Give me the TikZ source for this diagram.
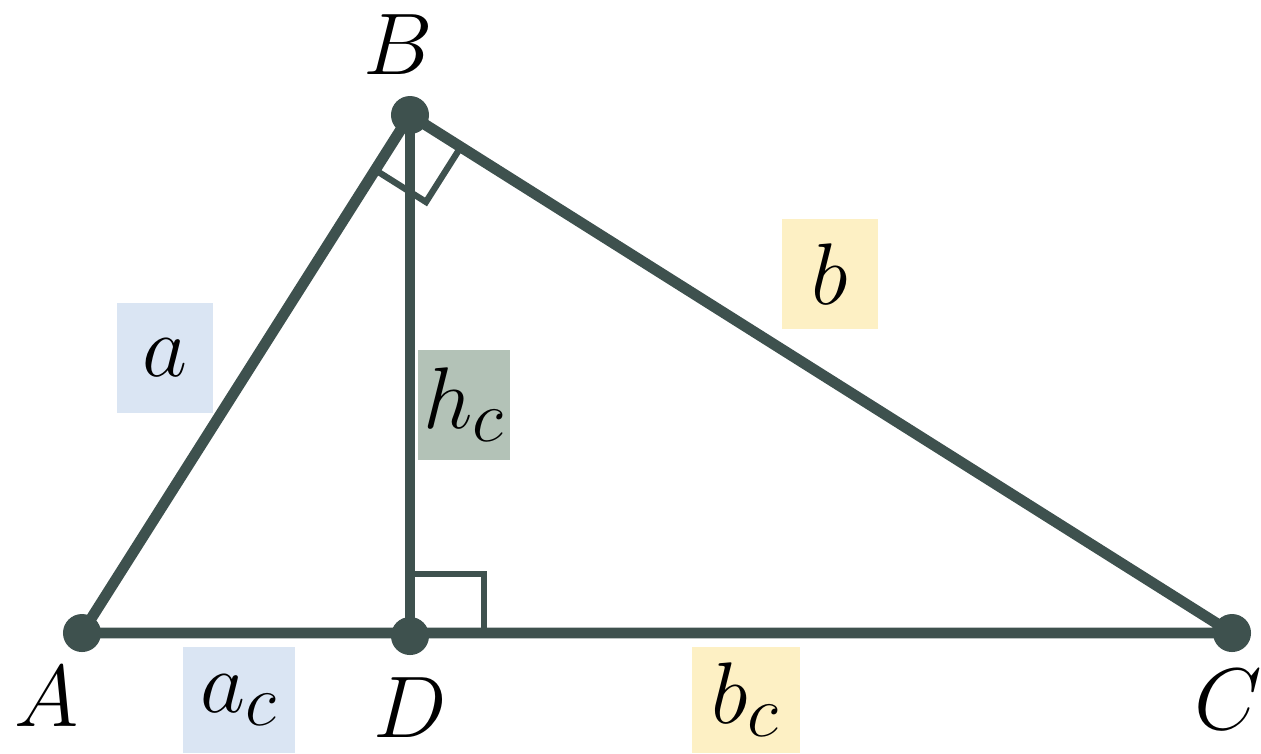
\documentclass[tikz,border=0pt]{standalone}
\usetikzlibrary{calc, positioning}
\definecolor{edgecol}{HTML}{3E514E}
\definecolor{lblue}{HTML}{DAE5F3}
\definecolor{lyellow}{HTML}{FDF0C4}
\definecolor{lgreen}{HTML}{B3C2B7}

\begin{document}
\begin{tikzpicture}[
    x=0.01cm, y=-0.01cm,
    side/.style={draw=edgecol, line width=3.1pt, line join=round},
    rightmark/.style={draw=edgecol, line width=1.8pt},
    vtx/.style={font=\Huge},
    lbl/.style={font=\Huge, minimum width=0.95cm, minimum height=1.1cm,
                inner sep=0pt}
  ]
  \useasboundingbox (0,0) rectangle (1261,753);

  \coordinate (A) at (82,633);
  \coordinate (B) at (410,115);
  \coordinate (C) at (1232,633);
  \coordinate (D) at (410,636);

  % right angles
  \coordinate (ba) at ($(B)!0.65cm!(A)$);
  \coordinate (bc) at ($(B)!0.6cm!(C)$);
  \draw[rightmark] (ba) -- ($(ba)+(bc)-(B)$) -- (bc);
  \draw[rightmark] ($(D)+(0,-62)$) -| ($(D)+(74,0)$);

  \draw[side] (A) -- (B) -- (C) -- cycle;
  \draw[side] (B) -- (D);

  \foreach \p in {A,B,C,D}
    \fill[edgecol] (\p) circle (0.19cm);

  \node[vtx] (lA) at (47,697) {$A$};
  \node[vtx] (lB) at (398,45) {$B$};
  \node[vtx] (lC) at (1228,700) {$C$};
  \node[vtx] (lD) at (410,708) {$D$};

  \node[lbl, fill=lblue] (sa) at (165,358) {$a$};
  \node[lbl, fill=lyellow] (sb) at (830,274) {$b$};
  \node[lbl, fill=lgreen, minimum width=0.92cm] (hc) at (464,405) {$h_c$};
  \node[lbl, fill=lblue, minimum width=1.12cm, minimum height=1.05cm]
    (sac) at (239,700) {$a_c$};
  \node[lbl, fill=lyellow, minimum width=1.07cm, minimum height=1.05cm]
    (sbc) at (746,700) {$b_c$};
\end{tikzpicture}
\end{document}
